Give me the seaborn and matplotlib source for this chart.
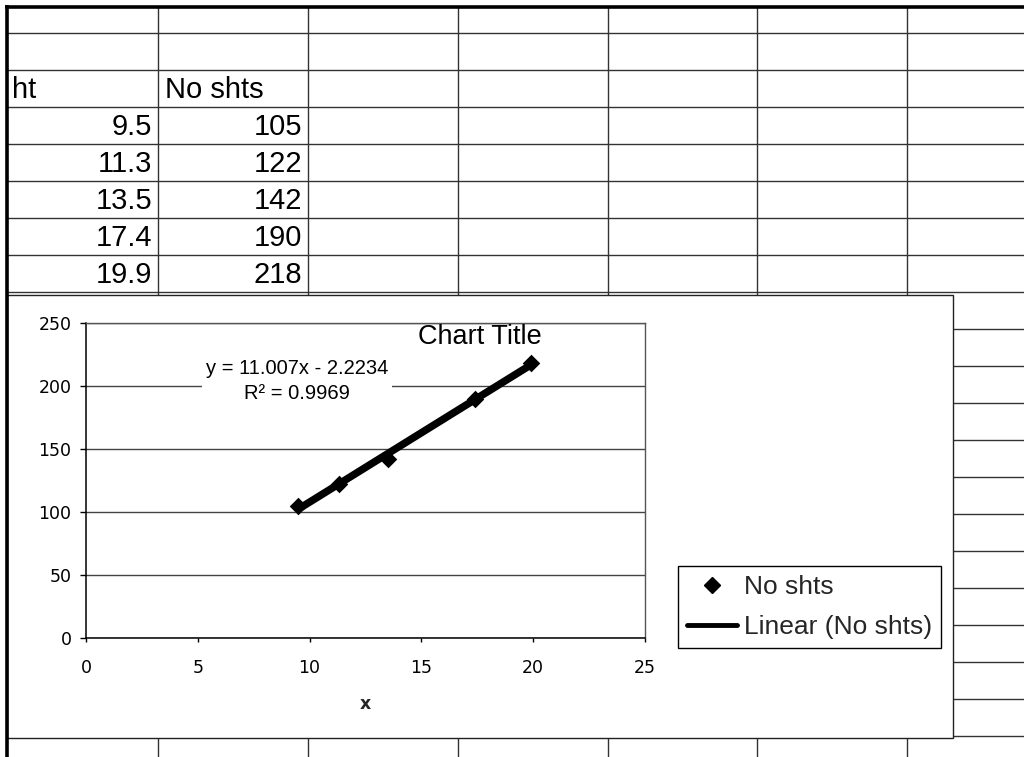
import numpy as np
import matplotlib
matplotlib.use("Agg")
import matplotlib.pyplot as plt
from matplotlib.lines import Line2D
from matplotlib.patches import Rectangle
import seaborn as sns

# Worksheet data: tree height and number of shoots
header_x = "ht"
header_y = "No shts"
ht = [9.5, 11.3, 13.5, 17.4, 19.9]
shots = [105, 122, 142, 190, 218]

series_label = "No shts"
trend_label = "Linear (No shts)"
chart_title = "Chart Title"
x_label = "x"
x_ticks = [0, 5, 10, 15, 20, 25]
y_ticks = [0, 50, 100, 150, 200, 250]

sns.set_theme(style="white")
plt.rcParams["font.family"] = ["Liberation Sans", "DejaVu Sans"]

W, H = 1024, 757
fig = plt.figure(figsize=(W / 100, H / 100), dpi=100)

# ---- spreadsheet background (pixel coordinates) ----
bg = fig.add_axes([0, 0, 1, 1])
bg.set_xlim(0, W)
bg.set_ylim(H, 0)
bg.axis("off")

grid_col = "#333333"
col_x = [158, 308, 458, 608, 757, 907]
row_y_top = [33 + 37 * k for k in range(8)]          # rows above the chart
row_y_right = [329 + 37 * k for k in range(12)]      # rows visible right of the chart

for y in row_y_top:
    bg.plot([7, W], [y, y], color=grid_col, lw=1.0, zorder=1)
for y in row_y_right:
    bg.plot([953, W], [y, y], color=grid_col, lw=1.0, zorder=1)
for x in col_x:
    bg.plot([x, x], [7, 296], color=grid_col, lw=1.0, zorder=1)
    bg.plot([x, x], [737, H], color=grid_col, lw=1.0, zorder=1)

# thick worksheet border
bg.plot([5, W], [7, 7], color="black", lw=2.6, zorder=5, solid_capstyle="butt")
bg.plot([7, 7], [5, H], color="black", lw=2.6, zorder=5, solid_capstyle="butt")

# cell contents
cell_font = dict(fontsize=21, color="black", va="center")
bg.text(12, 90, header_x, ha="left", **cell_font)
bg.text(165, 90, header_y, ha="left", **cell_font)
for i, (a, b) in enumerate(zip(ht, shots)):
    yc = 127 + 37 * i
    bg.text(152, yc, f"{a}", ha="right", **cell_font)
    bg.text(302, yc, f"{b}", ha="right", **cell_font)

# chart object area
bg.add_patch(Rectangle((7, 295), 946, 443, facecolor="white",
                       edgecolor="#222222", lw=1.0, zorder=3))

# ---- chart ----
left, right, top, bottom = 86, 645, 323, 638
ax = fig.add_axes([left / W, (H - bottom) / H, (right - left) / W, (bottom - top) / H])
ax.set_zorder(4)
ax.set_facecolor("white")

sns.regplot(x=ht, y=shots, ax=ax, ci=None, truncate=True, marker="D",
            scatter_kws=dict(s=80, color="black", alpha=1, zorder=3, linewidths=0),
            line_kws=dict(color="black", lw=5.4, zorder=4))

ax.set_xlim(0, 25)
ax.set_ylim(0, 250)
ax.set_xticks(x_ticks)
ax.set_yticks(y_ticks)
ax.yaxis.grid(True, color="#444444", lw=1.0)
ax.xaxis.grid(False)
ax.set_axisbelow(True)

for side in ("left", "bottom"):
    ax.spines[side].set_color("black")
    ax.spines[side].set_linewidth(1.1)
for side in ("top", "right"):
    ax.spines[side].set_color("#555555")
    ax.spines[side].set_linewidth(1.0)

ax.tick_params(axis="x", direction="out", length=3, width=1, pad=12, colors="black",
               bottom=True, labelsize=12.5, labelfontfamily="DejaVu Sans")
ax.tick_params(axis="y", direction="out", length=4.5, width=1, pad=6, colors="black",
               left=True, labelsize=12.5, labelfontfamily="DejaVu Sans")

ax.set_xlabel(x_label, fontsize=12.5, fontweight="bold", labelpad=13,
              family="DejaVu Sans")
ax.set_ylabel("")

ax.text(0.705, 0.955, chart_title, transform=ax.transAxes, ha="center",
        va="center", fontsize=19.5, color="black")

# trendline equation from the least-squares fit
slope, icpt = np.polyfit(ht, shots, 1)
r2 = np.corrcoef(ht, shots)[0, 1] ** 2
sign = "-" if icpt < 0 else "+"
eq = f"y = {slope:.5g}x {sign} {abs(icpt):.5g}\nR\u00b2 = {r2:.4f}"
ax.text((297 - left) / (right - left), (bottom - 381) / (bottom - top), eq,
        transform=ax.transAxes, ha="center", va="center", multialignment="center",
        fontsize=14.5, linespacing=1.35, color="black",
        bbox=dict(facecolor="white", edgecolor="none", pad=3), zorder=6)

# legend
handles = [
    Line2D([], [], marker="D", ls="none", color="black", markersize=8),
    Line2D([], [], color="black", lw=3.5),
]
leg = fig.legend(handles, [series_label, trend_label], loc="upper left",
                 bbox_to_anchor=(678 / W, 1 - 566 / H), borderaxespad=0,
                 fontsize=19, frameon=True, fancybox=False, framealpha=1,
                 edgecolor="black", handlelength=1.9, handletextpad=0.25,
                 labelspacing=0.6, borderpad=0.35)
leg.get_frame().set_linewidth(1.0)
leg.set_zorder(10)

fig.savefig("out.png", dpi=100, facecolor="white")
